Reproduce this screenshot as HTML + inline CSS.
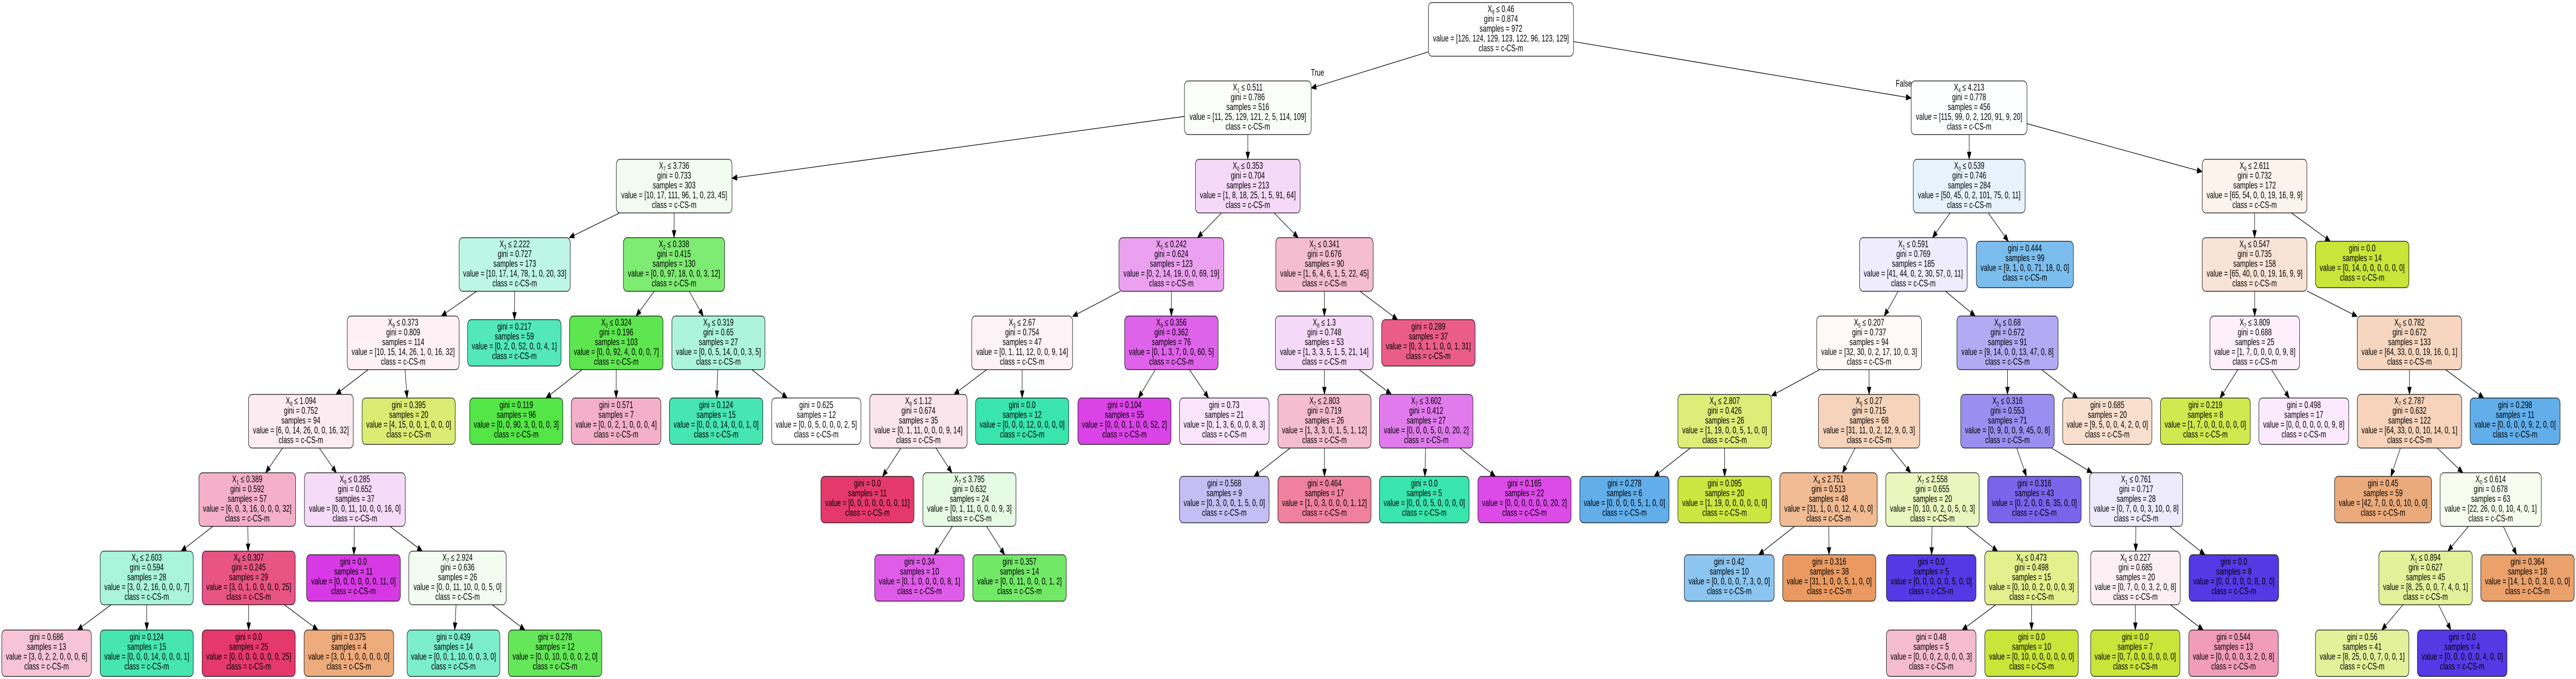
<!DOCTYPE html>
<html><head><meta charset="utf-8"><style>
html,body{margin:0;padding:0;background:#fff;width:100%;height:100%;overflow:hidden;}
svg{display:block;width:100vw;height:100vh;}
text{font-family:"Liberation Sans",Arial,sans-serif;font-size:18.5px;text-anchor:middle;fill:#000;}
.s{font-size:12px;}
rect{stroke:#000;stroke-width:1.2;}
</style></head><body>
<svg id="sv" xmlns="http://www.w3.org/2000/svg" viewBox="0 0 7277 1317" preserveAspectRatio="none">
<g id="edges" stroke="#000" stroke-width="1.3" fill="#000"></g>
<text x="3722" y="147">True</text>
<text x="5378" y="168">False</text>

<rect id="n1" x="4035" y="5" width="410" height="104" rx="10" fill="#ffffff"/>
<text x="4240" y="23.5">X<tspan class="s" dy="4">9</tspan><tspan dy="-4"> ≤ 0.46</tspan><tspan x="4240" dy="19">gini = 0.874</tspan><tspan x="4240" dy="19">samples = 972</tspan><tspan x="4240" dy="19">value = [126, 124, 129, 123, 122, 96, 123, 129]</tspan><tspan x="4240" dy="19">class = c-CS-m</tspan></text>

<rect id="n2" x="3346" y="157" width="358" height="104" rx="10" fill="#fbfdfa"/>
<text x="3525" y="175.5">X<tspan class="s" dy="4">1</tspan><tspan dy="-4"> ≤ 0.511</tspan><tspan x="3525" dy="19">gini = 0.786</tspan><tspan x="3525" dy="19">samples = 516</tspan><tspan x="3525" dy="19">value = [11, 25, 129, 121, 2, 5, 114, 109]</tspan><tspan x="3525" dy="19">class = c-CS-m</tspan></text>

<rect id="n3" x="1741" y="309" width="327" height="104" rx="10" fill="#f2fcf1"/>
<text x="1904.5" y="327.5">X<tspan class="s" dy="4">7</tspan><tspan dy="-4"> ≤ 3.736</tspan><tspan x="1904.5" dy="19">gini = 0.733</tspan><tspan x="1904.5" dy="19">samples = 303</tspan><tspan x="1904.5" dy="19">value = [10, 17, 111, 96, 1, 0, 23, 45]</tspan><tspan x="1904.5" dy="19">class = c-CS-m</tspan></text>

<rect id="n4" x="3377" y="309" width="296" height="104" rx="10" fill="#f6d9f8"/>
<text x="3525" y="327.5">X<tspan class="s" dy="4">0</tspan><tspan dy="-4"> ≤ 0.353</tspan><tspan x="3525" dy="19">gini = 0.704</tspan><tspan x="3525" dy="19">samples = 213</tspan><tspan x="3525" dy="19">value = [1, 8, 18, 25, 1, 5, 91, 64]</tspan><tspan x="3525" dy="19">class = c-CS-m</tspan></text>

<rect id="n5" x="1297" y="461" width="314" height="104" rx="10" fill="#bdf6e4"/>
<text x="1454" y="479.5">X<tspan class="s" dy="4">3</tspan><tspan dy="-4"> ≤ 2.222</tspan><tspan x="1454" dy="19">gini = 0.727</tspan><tspan x="1454" dy="19">samples = 173</tspan><tspan x="1454" dy="19">value = [10, 17, 14, 78, 1, 0, 20, 33]</tspan><tspan x="1454" dy="19">class = c-CS-m</tspan></text>

<rect id="n6" x="1761" y="461" width="286" height="104" rx="10" fill="#7eeb72"/>
<text x="1904" y="479.5">X<tspan class="s" dy="4">2</tspan><tspan dy="-4"> ≤ 0.338</tspan><tspan x="1904" dy="19">gini = 0.415</tspan><tspan x="1904" dy="19">samples = 130</tspan><tspan x="1904" dy="19">value = [0, 0, 97, 18, 0, 0, 3, 12]</tspan><tspan x="1904" dy="19">class = c-CS-m</tspan></text>

<rect id="n7" x="3161" y="461" width="296" height="104" rx="10" fill="#eba0f0"/>
<text x="3309" y="479.5">X<tspan class="s" dy="4">5</tspan><tspan dy="-4"> ≤ 0.242</tspan><tspan x="3309" dy="19">gini = 0.624</tspan><tspan x="3309" dy="19">samples = 123</tspan><tspan x="3309" dy="19">value = [0, 2, 14, 19, 0, 0, 69, 19]</tspan><tspan x="3309" dy="19">class = c-CS-m</tspan></text>

<rect id="n8" x="3604" y="461" width="275" height="104" rx="10" fill="#f5bdd0"/>
<text x="3741.5" y="479.5">X<tspan class="s" dy="4">2</tspan><tspan dy="-4"> ≤ 0.341</tspan><tspan x="3741.5" dy="19">gini = 0.676</tspan><tspan x="3741.5" dy="19">samples = 90</tspan><tspan x="3741.5" dy="19">value = [1, 6, 4, 6, 1, 5, 22, 45]</tspan><tspan x="3741.5" dy="19">class = c-CS-m</tspan></text>

<rect id="n9" x="981" y="613" width="316" height="104" rx="10" fill="#fdf1f5"/>
<text x="1139" y="631.5">X<tspan class="s" dy="4">9</tspan><tspan dy="-4"> ≤ 0.373</tspan><tspan x="1139" dy="19">gini = 0.809</tspan><tspan x="1139" dy="19">samples = 114</tspan><tspan x="1139" dy="19">value = [10, 15, 14, 26, 1, 0, 16, 32]</tspan><tspan x="1139" dy="19">class = c-CS-m</tspan></text>

<rect id="n10" x="1321" y="620" width="264" height="90" rx="10" fill="#52e8b7"/>
<text x="1453" y="639.5">gini = 0.217<tspan x="1453" dy="19">samples = 59</tspan><tspan x="1453" dy="19">value = [0, 2, 0, 52, 0, 0, 4, 1]</tspan><tspan x="1453" dy="19">class = c-CS-m</tspan></text>

<rect id="n11" x="1609" y="613" width="264" height="104" rx="10" fill="#5de64f"/>
<text x="1741" y="631.5">X<tspan class="s" dy="4">0</tspan><tspan dy="-4"> ≤ 0.324</tspan><tspan x="1741" dy="19">gini = 0.196</tspan><tspan x="1741" dy="19">samples = 103</tspan><tspan x="1741" dy="19">value = [0, 0, 92, 4, 0, 0, 0, 7]</tspan><tspan x="1741" dy="19">class = c-CS-m</tspan></text>

<rect id="n12" x="1898" y="613" width="263" height="104" rx="10" fill="#adf4dc"/>
<text x="2029.5" y="631.5">X<tspan class="s" dy="4">9</tspan><tspan dy="-4"> ≤ 0.319</tspan><tspan x="2029.5" dy="19">gini = 0.65</tspan><tspan x="2029.5" dy="19">samples = 27</tspan><tspan x="2029.5" dy="19">value = [0, 0, 5, 14, 0, 0, 3, 5]</tspan><tspan x="2029.5" dy="19">class = c-CS-m</tspan></text>

<rect id="n13" x="2745" y="613" width="285" height="104" rx="10" fill="#fdf2f5"/>
<text x="2887.5" y="631.5">X<tspan class="s" dy="4">3</tspan><tspan dy="-4"> ≤ 2.67</tspan><tspan x="2887.5" dy="19">gini = 0.754</tspan><tspan x="2887.5" dy="19">samples = 47</tspan><tspan x="2887.5" dy="19">value = [0, 1, 11, 12, 0, 0, 9, 14]</tspan><tspan x="2887.5" dy="19">class = c-CS-m</tspan></text>

<rect id="n14" x="3177" y="613" width="264" height="104" rx="10" fill="#df62eb"/>
<text x="3309" y="631.5">X<tspan class="s" dy="4">9</tspan><tspan dy="-4"> ≤ 0.356</tspan><tspan x="3309" dy="19">gini = 0.362</tspan><tspan x="3309" dy="19">samples = 76</tspan><tspan x="3309" dy="19">value = [0, 1, 3, 7, 0, 0, 60, 5]</tspan><tspan x="3309" dy="19">class = c-CS-m</tspan></text>

<rect id="n15" x="3603" y="613" width="276" height="104" rx="10" fill="#f6d9f8"/>
<text x="3741" y="631.5">X<tspan class="s" dy="4">8</tspan><tspan dy="-4"> ≤ 1.3</tspan><tspan x="3741" dy="19">gini = 0.748</tspan><tspan x="3741" dy="19">samples = 53</tspan><tspan x="3741" dy="19">value = [1, 3, 3, 5, 1, 5, 21, 14]</tspan><tspan x="3741" dy="19">class = c-CS-m</tspan></text>

<rect id="n16" x="3903" y="620" width="264" height="90" rx="10" fill="#ea5d8a"/>
<text x="4035" y="639.5">gini = 0.289<tspan x="4035" dy="19">samples = 37</tspan><tspan x="4035" dy="19">value = [0, 3, 1, 1, 0, 0, 1, 31]</tspan><tspan x="4035" dy="19">class = c-CS-m</tspan></text>

<rect id="n17" x="702" y="765" width="296" height="104" rx="10" fill="#fcecf2"/>
<text x="850" y="783.5">X<tspan class="s" dy="4">8</tspan><tspan dy="-4"> ≤ 1.094</tspan><tspan x="850" dy="19">gini = 0.752</tspan><tspan x="850" dy="19">samples = 94</tspan><tspan x="850" dy="19">value = [6, 0, 14, 26, 0, 0, 16, 32]</tspan><tspan x="850" dy="19">class = c-CS-m</tspan></text>

<rect id="n18" x="1023" y="772" width="263" height="90" rx="10" fill="#dbec74"/>
<text x="1154.5" y="791.5">gini = 0.395<tspan x="1154.5" dy="19">samples = 20</tspan><tspan x="1154.5" dy="19">value = [4, 15, 0, 0, 1, 0, 0, 0]</tspan><tspan x="1154.5" dy="19">class = c-CS-m</tspan></text>

<rect id="n19" x="1327" y="772" width="263" height="90" rx="10" fill="#54e547"/>
<text x="1458.5" y="791.5">gini = 0.119<tspan x="1458.5" dy="19">samples = 96</tspan><tspan x="1458.5" dy="19">value = [0, 0, 90, 3, 0, 0, 0, 3]</tspan><tspan x="1458.5" dy="19">class = c-CS-m</tspan></text>

<rect id="n20" x="1614" y="772" width="253" height="90" rx="10" fill="#f4b0c8"/>
<text x="1740.5" y="791.5">gini = 0.571<tspan x="1740.5" dy="19">samples = 7</tspan><tspan x="1740.5" dy="19">value = [0, 0, 2, 1, 0, 0, 0, 4]</tspan><tspan x="1740.5" dy="19">class = c-CS-m</tspan></text>

<rect id="n21" x="1891" y="772" width="264" height="90" rx="10" fill="#47e5b1"/>
<text x="2023" y="791.5">gini = 0.124<tspan x="2023" dy="19">samples = 15</tspan><tspan x="2023" dy="19">value = [0, 0, 0, 14, 0, 0, 1, 0]</tspan><tspan x="2023" dy="19">class = c-CS-m</tspan></text>

<rect id="n22" x="2180" y="772" width="252" height="90" rx="10" fill="#ffffff"/>
<text x="2306" y="791.5">gini = 0.625<tspan x="2306" dy="19">samples = 12</tspan><tspan x="2306" dy="19">value = [0, 0, 5, 0, 0, 0, 2, 5]</tspan><tspan x="2306" dy="19">class = c-CS-m</tspan></text>

<rect id="n23" x="2457" y="765" width="275" height="104" rx="10" fill="#fbe5ec"/>
<text x="2594.5" y="783.5">X<tspan class="s" dy="4">8</tspan><tspan dy="-4"> ≤ 1.12</tspan><tspan x="2594.5" dy="19">gini = 0.674</tspan><tspan x="2594.5" dy="19">samples = 35</tspan><tspan x="2594.5" dy="19">value = [0, 1, 11, 0, 0, 0, 9, 14]</tspan><tspan x="2594.5" dy="19">class = c-CS-m</tspan></text>

<rect id="n24" x="2756" y="772" width="263" height="90" rx="10" fill="#39e5ac"/>
<text x="2887.5" y="791.5">gini = 0.0<tspan x="2887.5" dy="19">samples = 12</tspan><tspan x="2887.5" dy="19">value = [0, 0, 0, 12, 0, 0, 0, 0]</tspan><tspan x="2887.5" dy="19">class = c-CS-m</tspan></text>

<rect id="n25" x="3045" y="772" width="263" height="90" rx="10" fill="#da44e7"/>
<text x="3176.5" y="791.5">gini = 0.104<tspan x="3176.5" dy="19">samples = 55</tspan><tspan x="3176.5" dy="19">value = [0, 0, 0, 1, 0, 0, 52, 2]</tspan><tspan x="3176.5" dy="19">class = c-CS-m</tspan></text>

<rect id="n26" x="3332" y="772" width="253" height="90" rx="10" fill="#fae4fb"/>
<text x="3458.5" y="791.5">gini = 0.73<tspan x="3458.5" dy="19">samples = 21</tspan><tspan x="3458.5" dy="19">value = [0, 1, 3, 6, 0, 0, 8, 3]</tspan><tspan x="3458.5" dy="19">class = c-CS-m</tspan></text>

<rect id="n27" x="3610" y="765" width="263" height="104" rx="10" fill="#f5bdd0"/>
<text x="3741.5" y="783.5">X<tspan class="s" dy="4">7</tspan><tspan dy="-4"> ≤ 2.803</tspan><tspan x="3741.5" dy="19">gini = 0.719</tspan><tspan x="3741.5" dy="19">samples = 26</tspan><tspan x="3741.5" dy="19">value = [1, 3, 3, 0, 1, 5, 1, 12]</tspan><tspan x="3741.5" dy="19">class = c-CS-m</tspan></text>

<rect id="n28" x="3897" y="765" width="264" height="104" rx="10" fill="#e17bed"/>
<text x="4029" y="783.5">X<tspan class="s" dy="4">7</tspan><tspan dy="-4"> ≤ 3.602</tspan><tspan x="4029" dy="19">gini = 0.412</tspan><tspan x="4029" dy="19">samples = 27</tspan><tspan x="4029" dy="19">value = [0, 0, 0, 5, 0, 0, 20, 2]</tspan><tspan x="4029" dy="19">class = c-CS-m</tspan></text>

<rect id="n29" x="562" y="917" width="273" height="104" rx="10" fill="#f5b0c9"/>
<text x="698.5" y="935.5">X<tspan class="s" dy="4">1</tspan><tspan dy="-4"> ≤ 0.389</tspan><tspan x="698.5" dy="19">gini = 0.592</tspan><tspan x="698.5" dy="19">samples = 57</tspan><tspan x="698.5" dy="19">value = [6, 0, 3, 16, 0, 0, 0, 32]</tspan><tspan x="698.5" dy="19">class = c-CS-m</tspan></text>

<rect id="n30" x="860" y="917" width="285" height="104" rx="10" fill="#f6dbf8"/>
<text x="1002.5" y="935.5">X<tspan class="s" dy="4">9</tspan><tspan dy="-4"> ≤ 0.285</tspan><tspan x="1002.5" dy="19">gini = 0.652</tspan><tspan x="1002.5" dy="19">samples = 37</tspan><tspan x="1002.5" dy="19">value = [0, 0, 11, 10, 0, 0, 16, 0]</tspan><tspan x="1002.5" dy="19">class = c-CS-m</tspan></text>

<rect id="n31" x="2319" y="924" width="263" height="90" rx="10" fill="#e5396c"/>
<text x="2450.5" y="943.5">gini = 0.0<tspan x="2450.5" dy="19">samples = 11</tspan><tspan x="2450.5" dy="19">value = [0, 0, 0, 0, 0, 0, 0, 11]</tspan><tspan x="2450.5" dy="19">class = c-CS-m</tspan></text>

<rect id="n32" x="2607" y="917" width="263" height="104" rx="10" fill="#e6fbe4"/>
<text x="2738.5" y="935.5">X<tspan class="s" dy="4">7</tspan><tspan dy="-4"> ≤ 3.795</tspan><tspan x="2738.5" dy="19">gini = 0.632</tspan><tspan x="2738.5" dy="19">samples = 24</tspan><tspan x="2738.5" dy="19">value = [0, 1, 11, 0, 0, 0, 9, 3]</tspan><tspan x="2738.5" dy="19">class = c-CS-m</tspan></text>

<rect id="n33" x="3332" y="924" width="253" height="90" rx="10" fill="#c5bef5"/>
<text x="3458.5" y="943.5">gini = 0.568<tspan x="3458.5" dy="19">samples = 9</tspan><tspan x="3458.5" dy="19">value = [0, 3, 0, 0, 1, 5, 0, 0]</tspan><tspan x="3458.5" dy="19">class = c-CS-m</tspan></text>

<rect id="n34" x="3610" y="924" width="263" height="90" rx="10" fill="#ef819f"/>
<text x="3741.5" y="943.5">gini = 0.464<tspan x="3741.5" dy="19">samples = 17</tspan><tspan x="3741.5" dy="19">value = [1, 0, 3, 0, 0, 0, 1, 12]</tspan><tspan x="3741.5" dy="19">class = c-CS-m</tspan></text>

<rect id="n35" x="3897" y="924" width="253" height="90" rx="10" fill="#39e5ac"/>
<text x="4023.5" y="943.5">gini = 0.0<tspan x="4023.5" dy="19">samples = 5</tspan><tspan x="4023.5" dy="19">value = [0, 0, 0, 5, 0, 0, 0, 0]</tspan><tspan x="4023.5" dy="19">class = c-CS-m</tspan></text>

<rect id="n36" x="4175" y="924" width="263" height="90" rx="10" fill="#dc4ae8"/>
<text x="4306.5" y="943.5">gini = 0.165<tspan x="4306.5" dy="19">samples = 22</tspan><tspan x="4306.5" dy="19">value = [0, 0, 0, 0, 0, 0, 20, 2]</tspan><tspan x="4306.5" dy="19">class = c-CS-m</tspan></text>

<rect id="n37" x="283" y="1069" width="263" height="104" rx="10" fill="#aaf4dc"/>
<text x="414.5" y="1087.5">X<tspan class="s" dy="4">4</tspan><tspan dy="-4"> ≤ 2.603</tspan><tspan x="414.5" dy="19">gini = 0.594</tspan><tspan x="414.5" dy="19">samples = 28</tspan><tspan x="414.5" dy="19">value = [3, 0, 2, 16, 0, 0, 0, 7]</tspan><tspan x="414.5" dy="19">class = c-CS-m</tspan></text>

<rect id="n38" x="571" y="1069" width="263" height="104" rx="10" fill="#e85585"/>
<text x="702.5" y="1087.5">X<tspan class="s" dy="4">9</tspan><tspan dy="-4"> ≤ 0.307</tspan><tspan x="702.5" dy="19">gini = 0.245</tspan><tspan x="702.5" dy="19">samples = 29</tspan><tspan x="702.5" dy="19">value = [3, 0, 1, 0, 0, 0, 0, 25]</tspan><tspan x="702.5" dy="19">class = c-CS-m</tspan></text>

<rect id="n39" x="866" y="1076" width="265" height="90" rx="10" fill="#d739e5"/>
<text x="998.5" y="1095.5">gini = 0.0<tspan x="998.5" dy="19">samples = 11</tspan><tspan x="998.5" dy="19">value = [0, 0, 0, 0, 0, 0, 11, 0]</tspan><tspan x="998.5" dy="19">class = c-CS-m</tspan></text>

<rect id="n40" x="1155" y="1069" width="275" height="104" rx="10" fill="#f3fcf1"/>
<text x="1292.5" y="1087.5">X<tspan class="s" dy="4">7</tspan><tspan dy="-4"> ≤ 2.924</tspan><tspan x="1292.5" dy="19">gini = 0.636</tspan><tspan x="1292.5" dy="19">samples = 26</tspan><tspan x="1292.5" dy="19">value = [0, 0, 11, 10, 0, 0, 5, 0]</tspan><tspan x="1292.5" dy="19">class = c-CS-m</tspan></text>

<rect id="n41" x="2471" y="1076" width="253" height="90" rx="10" fill="#df5ce9"/>
<text x="2597.5" y="1095.5">gini = 0.34<tspan x="2597.5" dy="19">samples = 10</tspan><tspan x="2597.5" dy="19">value = [0, 1, 0, 0, 0, 0, 8, 1]</tspan><tspan x="2597.5" dy="19">class = c-CS-m</tspan></text>

<rect id="n42" x="2748" y="1076" width="264" height="90" rx="10" fill="#72e966"/>
<text x="2880" y="1095.5">gini = 0.357<tspan x="2880" dy="19">samples = 14</tspan><tspan x="2880" dy="19">value = [0, 0, 11, 0, 0, 0, 1, 2]</tspan><tspan x="2880" dy="19">class = c-CS-m</tspan></text>

<rect id="n43" x="5" y="1222" width="253" height="90" rx="10" fill="#f6c4d6"/>
<text x="131.5" y="1241.5">gini = 0.686<tspan x="131.5" dy="19">samples = 13</tspan><tspan x="131.5" dy="19">value = [3, 0, 2, 2, 0, 0, 0, 6]</tspan><tspan x="131.5" dy="19">class = c-CS-m</tspan></text>

<rect id="n44" x="283" y="1222" width="263" height="90" rx="10" fill="#47e6b1"/>
<text x="414.5" y="1241.5">gini = 0.124<tspan x="414.5" dy="19">samples = 15</tspan><tspan x="414.5" dy="19">value = [0, 0, 0, 14, 0, 0, 0, 1]</tspan><tspan x="414.5" dy="19">class = c-CS-m</tspan></text>

<rect id="n45" x="571" y="1222" width="263" height="90" rx="10" fill="#e5396c"/>
<text x="702.5" y="1241.5">gini = 0.0<tspan x="702.5" dy="19">samples = 25</tspan><tspan x="702.5" dy="19">value = [0, 0, 0, 0, 0, 0, 0, 25]</tspan><tspan x="702.5" dy="19">class = c-CS-m</tspan></text>

<rect id="n46" x="859" y="1222" width="253" height="90" rx="10" fill="#eeab7b"/>
<text x="985.5" y="1241.5">gini = 0.375<tspan x="985.5" dy="19">samples = 4</tspan><tspan x="985.5" dy="19">value = [3, 0, 1, 0, 0, 0, 0, 0]</tspan><tspan x="985.5" dy="19">class = c-CS-m</tspan></text>

<rect id="n47" x="1150" y="1222" width="262" height="90" rx="10" fill="#7deecb"/>
<text x="1281" y="1241.5">gini = 0.439<tspan x="1281" dy="19">samples = 14</tspan><tspan x="1281" dy="19">value = [0, 0, 1, 10, 0, 0, 3, 0]</tspan><tspan x="1281" dy="19">class = c-CS-m</tspan></text>

<rect id="n48" x="1436" y="1222" width="264" height="90" rx="10" fill="#65e759"/>
<text x="1568" y="1241.5">gini = 0.278<tspan x="1568" dy="19">samples = 12</tspan><tspan x="1568" dy="19">value = [0, 0, 10, 0, 0, 0, 2, 0]</tspan><tspan x="1568" dy="19">class = c-CS-m</tspan></text>

<rect id="r1" x="5399" y="157" width="327" height="104" rx="10" fill="#fdfeff"/>
<text x="5562.5" y="175.5">X<tspan class="s" dy="4">4</tspan><tspan dy="-4"> ≤ 4.213</tspan><tspan x="5562.5" dy="19">gini = 0.778</tspan><tspan x="5562.5" dy="19">samples = 456</tspan><tspan x="5562.5" dy="19">value = [115, 99, 0, 2, 120, 91, 9, 20]</tspan><tspan x="5562.5" dy="19">class = c-CS-m</tspan></text>

<rect id="r2" x="5405" y="309" width="316" height="104" rx="10" fill="#e6f2fc"/>
<text x="5563" y="327.5">X<tspan class="s" dy="4">0</tspan><tspan dy="-4"> ≤ 0.539</tspan><tspan x="5563" dy="19">gini = 0.746</tspan><tspan x="5563" dy="19">samples = 284</tspan><tspan x="5563" dy="19">value = [50, 45, 0, 2, 101, 75, 0, 11]</tspan><tspan x="5563" dy="19">class = c-CS-m</tspan></text>

<rect id="r3" x="6221" y="309" width="296" height="104" rx="10" fill="#fcf3ec"/>
<text x="6369" y="327.5">X<tspan class="s" dy="4">8</tspan><tspan dy="-4"> ≤ 2.611</tspan><tspan x="6369" dy="19">gini = 0.732</tspan><tspan x="6369" dy="19">samples = 172</tspan><tspan x="6369" dy="19">value = [65, 54, 0, 0, 19, 16, 9, 9]</tspan><tspan x="6369" dy="19">class = c-CS-m</tspan></text>

<rect id="r4" x="5253" y="461" width="304" height="104" rx="10" fill="#eeecfd"/>
<text x="5405" y="479.5">X<tspan class="s" dy="4">1</tspan><tspan dy="-4"> ≤ 0.591</tspan><tspan x="5405" dy="19">gini = 0.769</tspan><tspan x="5405" dy="19">samples = 185</tspan><tspan x="5405" dy="19">value = [41, 44, 0, 2, 30, 57, 0, 11]</tspan><tspan x="5405" dy="19">class = c-CS-m</tspan></text>

<rect id="r5" x="5583" y="468" width="274" height="90" rx="10" fill="#7bbeee"/>
<text x="5720" y="487.5">gini = 0.444<tspan x="5720" dy="19">samples = 99</tspan><tspan x="5720" dy="19">value = [9, 1, 0, 0, 71, 18, 0, 0]</tspan><tspan x="5720" dy="19">class = c-CS-m</tspan></text>

<rect id="r6" x="6221" y="461" width="296" height="104" rx="10" fill="#f8e3d6"/>
<text x="6369" y="479.5">X<tspan class="s" dy="4">9</tspan><tspan dy="-4"> ≤ 0.547</tspan><tspan x="6369" dy="19">gini = 0.735</tspan><tspan x="6369" dy="19">samples = 158</tspan><tspan x="6369" dy="19">value = [65, 40, 0, 0, 19, 16, 9, 9]</tspan><tspan x="6369" dy="19">class = c-CS-m</tspan></text>

<rect id="r7" x="6541" y="468" width="264" height="90" rx="10" fill="#c9e539"/>
<text x="6673" y="487.5">gini = 0.0<tspan x="6673" dy="19">samples = 14</tspan><tspan x="6673" dy="19">value = [0, 14, 0, 0, 0, 0, 0, 0]</tspan><tspan x="6673" dy="19">class = c-CS-m</tspan></text>

<rect id="r8" x="5132" y="613" width="296" height="104" rx="10" fill="#fffaf7"/>
<text x="5280" y="631.5">X<tspan class="s" dy="4">5</tspan><tspan dy="-4"> ≤ 0.207</tspan><tspan x="5280" dy="19">gini = 0.737</tspan><tspan x="5280" dy="19">samples = 94</tspan><tspan x="5280" dy="19">value = [32, 30, 0, 2, 17, 10, 0, 3]</tspan><tspan x="5280" dy="19">class = c-CS-m</tspan></text>

<rect id="r9" x="5528" y="613" width="286" height="104" rx="10" fill="#b4aaf4"/>
<text x="5671" y="631.5">X<tspan class="s" dy="4">9</tspan><tspan dy="-4"> ≤ 0.68</tspan><tspan x="5671" dy="19">gini = 0.672</tspan><tspan x="5671" dy="19">samples = 91</tspan><tspan x="5671" dy="19">value = [9, 14, 0, 0, 13, 47, 0, 8]</tspan><tspan x="5671" dy="19">class = c-CS-m</tspan></text>

<rect id="r10" x="6243" y="613" width="253" height="104" rx="10" fill="#fdf0fc"/>
<text x="6369.5" y="631.5">X<tspan class="s" dy="4">7</tspan><tspan dy="-4"> ≤ 3.809</tspan><tspan x="6369.5" dy="19">gini = 0.688</tspan><tspan x="6369.5" dy="19">samples = 25</tspan><tspan x="6369.5" dy="19">value = [1, 7, 0, 0, 0, 0, 9, 8]</tspan><tspan x="6369.5" dy="19">class = c-CS-m</tspan></text>

<rect id="r11" x="6659" y="613" width="295" height="104" rx="10" fill="#f6d6bf"/>
<text x="6806.5" y="631.5">X<tspan class="s" dy="4">0</tspan><tspan dy="-4"> ≤ 0.782</tspan><tspan x="6806.5" dy="19">gini = 0.672</tspan><tspan x="6806.5" dy="19">samples = 133</tspan><tspan x="6806.5" dy="19">value = [64, 33, 0, 0, 19, 16, 0, 1]</tspan><tspan x="6806.5" dy="19">class = c-CS-m</tspan></text>

<rect id="r12" x="4740" y="765" width="264" height="104" rx="10" fill="#dced78"/>
<text x="4872" y="783.5">X<tspan class="s" dy="4">4</tspan><tspan dy="-4"> ≤ 2.807</tspan><tspan x="4872" dy="19">gini = 0.426</tspan><tspan x="4872" dy="19">samples = 26</tspan><tspan x="4872" dy="19">value = [1, 19, 0, 0, 5, 1, 0, 0]</tspan><tspan x="4872" dy="19">class = c-CS-m</tspan></text>

<rect id="r13" x="5137" y="765" width="286" height="104" rx="10" fill="#f6d4bb"/>
<text x="5280" y="783.5">X<tspan class="s" dy="4">5</tspan><tspan dy="-4"> ≤ 0.27</tspan><tspan x="5280" dy="19">gini = 0.715</tspan><tspan x="5280" dy="19">samples = 68</tspan><tspan x="5280" dy="19">value = [31, 11, 0, 2, 12, 9, 0, 3]</tspan><tspan x="5280" dy="19">class = c-CS-m</tspan></text>

<rect id="r14" x="5539" y="765" width="264" height="104" rx="10" fill="#9b8ef0"/>
<text x="5671" y="783.5">X<tspan class="s" dy="4">2</tspan><tspan dy="-4"> ≤ 0.316</tspan><tspan x="5671" dy="19">gini = 0.553</tspan><tspan x="5671" dy="19">samples = 71</tspan><tspan x="5671" dy="19">value = [0, 9, 0, 0, 9, 45, 0, 8]</tspan><tspan x="5671" dy="19">class = c-CS-m</tspan></text>

<rect id="r15" x="5827" y="772" width="252" height="90" rx="10" fill="#f8dfcd"/>
<text x="5953" y="791.5">gini = 0.685<tspan x="5953" dy="19">samples = 20</tspan><tspan x="5953" dy="19">value = [9, 5, 0, 0, 4, 2, 0, 0]</tspan><tspan x="5953" dy="19">class = c-CS-m</tspan></text>

<rect id="r16" x="6103" y="772" width="254" height="90" rx="10" fill="#d0e94f"/>
<text x="6230" y="791.5">gini = 0.219<tspan x="6230" dy="19">samples = 8</tspan><tspan x="6230" dy="19">value = [1, 7, 0, 0, 0, 0, 0, 0]</tspan><tspan x="6230" dy="19">class = c-CS-m</tspan></text>

<rect id="r17" x="6381" y="772" width="254" height="90" rx="10" fill="#fbeafd"/>
<text x="6508" y="791.5">gini = 0.498<tspan x="6508" dy="19">samples = 17</tspan><tspan x="6508" dy="19">value = [0, 0, 0, 0, 0, 0, 9, 8]</tspan><tspan x="6508" dy="19">class = c-CS-m</tspan></text>

<rect id="r18" x="6659" y="765" width="295" height="104" rx="10" fill="#f6d3ba"/>
<text x="6806.5" y="783.5">X<tspan class="s" dy="4">7</tspan><tspan dy="-4"> ≤ 2.787</tspan><tspan x="6806.5" dy="19">gini = 0.632</tspan><tspan x="6806.5" dy="19">samples = 122</tspan><tspan x="6806.5" dy="19">value = [64, 33, 0, 0, 10, 14, 0, 1]</tspan><tspan x="6806.5" dy="19">class = c-CS-m</tspan></text>

<rect id="r19" x="6978" y="772" width="254" height="90" rx="10" fill="#61aeea"/>
<text x="7105" y="791.5">gini = 0.298<tspan x="7105" dy="19">samples = 11</tspan><tspan x="7105" dy="19">value = [0, 0, 0, 0, 9, 2, 0, 0]</tspan><tspan x="7105" dy="19">class = c-CS-m</tspan></text>

<rect id="r20" x="4463" y="924" width="252" height="90" rx="10" fill="#61aeea"/>
<text x="4589" y="943.5">gini = 0.278<tspan x="4589" dy="19">samples = 6</tspan><tspan x="4589" dy="19">value = [0, 0, 0, 0, 5, 1, 0, 0]</tspan><tspan x="4589" dy="19">class = c-CS-m</tspan></text>

<rect id="r21" x="4740" y="924" width="264" height="90" rx="10" fill="#cbe640"/>
<text x="4872" y="943.5">gini = 0.095<tspan x="4872" dy="19">samples = 20</tspan><tspan x="4872" dy="19">value = [1, 19, 0, 0, 0, 0, 0, 0]</tspan><tspan x="4872" dy="19">class = c-CS-m</tspan></text>

<rect id="r22" x="5028" y="917" width="275" height="104" rx="10" fill="#f1bb94"/>
<text x="5165.5" y="935.5">X<tspan class="s" dy="4">4</tspan><tspan dy="-4"> ≤ 2.751</tspan><tspan x="5165.5" dy="19">gini = 0.513</tspan><tspan x="5165.5" dy="19">samples = 48</tspan><tspan x="5165.5" dy="19">value = [31, 1, 0, 0, 12, 4, 0, 0]</tspan><tspan x="5165.5" dy="19">class = c-CS-m</tspan></text>

<rect id="r23" x="5327" y="917" width="264" height="104" rx="10" fill="#ebf5be"/>
<text x="5459" y="935.5">X<tspan class="s" dy="4">7</tspan><tspan dy="-4"> ≤ 2.558</tspan><tspan x="5459" dy="19">gini = 0.655</tspan><tspan x="5459" dy="19">samples = 20</tspan><tspan x="5459" dy="19">value = [0, 10, 0, 2, 0, 5, 0, 3]</tspan><tspan x="5459" dy="19">class = c-CS-m</tspan></text>

<rect id="r24" x="5615" y="924" width="264" height="90" rx="10" fill="#7a64ea"/>
<text x="5747" y="943.5">gini = 0.316<tspan x="5747" dy="19">samples = 43</tspan><tspan x="5747" dy="19">value = [0, 2, 0, 0, 6, 35, 0, 0]</tspan><tspan x="5747" dy="19">class = c-CS-m</tspan></text>

<rect id="r25" x="5903" y="917" width="263" height="104" rx="10" fill="#edebfc"/>
<text x="6034.5" y="935.5">X<tspan class="s" dy="4">1</tspan><tspan dy="-4"> ≤ 0.761</tspan><tspan x="6034.5" dy="19">gini = 0.717</tspan><tspan x="6034.5" dy="19">samples = 28</tspan><tspan x="6034.5" dy="19">value = [0, 7, 0, 0, 3, 10, 0, 8]</tspan><tspan x="6034.5" dy="19">class = c-CS-m</tspan></text>

<rect id="r26" x="6595" y="924" width="274" height="90" rx="10" fill="#ebaa7b"/>
<text x="6732" y="943.5">gini = 0.45<tspan x="6732" dy="19">samples = 59</tspan><tspan x="6732" dy="19">value = [42, 7, 0, 0, 0, 10, 0, 0]</tspan><tspan x="6732" dy="19">class = c-CS-m</tspan></text>

<rect id="r27" x="6893" y="917" width="286" height="104" rx="10" fill="#f8fcee"/>
<text x="7036" y="935.5">X<tspan class="s" dy="4">0</tspan><tspan dy="-4"> ≤ 0.614</tspan><tspan x="7036" dy="19">gini = 0.678</tspan><tspan x="7036" dy="19">samples = 63</tspan><tspan x="7036" dy="19">value = [22, 26, 0, 0, 10, 4, 0, 1]</tspan><tspan x="7036" dy="19">class = c-CS-m</tspan></text>

<rect id="r28" x="4758" y="1076" width="254" height="90" rx="10" fill="#8bc5f0"/>
<text x="4885" y="1095.5">gini = 0.42<tspan x="4885" dy="19">samples = 10</tspan><tspan x="4885" dy="19">value = [0, 0, 0, 0, 7, 3, 0, 0]</tspan><tspan x="4885" dy="19">class = c-CS-m</tspan></text>

<rect id="r29" x="5036" y="1076" width="263" height="90" rx="10" fill="#ea9a60"/>
<text x="5167.5" y="1095.5">gini = 0.316<tspan x="5167.5" dy="19">samples = 38</tspan><tspan x="5167.5" dy="19">value = [31, 1, 0, 0, 5, 1, 0, 0]</tspan><tspan x="5167.5" dy="19">class = c-CS-m</tspan></text>

<rect id="r30" x="5329" y="1076" width="253" height="90" rx="10" fill="#5539e5"/>
<text x="5455.5" y="1095.5">gini = 0.0<tspan x="5455.5" dy="19">samples = 5</tspan><tspan x="5455.5" dy="19">value = [0, 0, 0, 0, 0, 5, 0, 0]</tspan><tspan x="5455.5" dy="19">class = c-CS-m</tspan></text>

<rect id="r31" x="5607" y="1069" width="264" height="104" rx="10" fill="#e2f08e"/>
<text x="5739" y="1087.5">X<tspan class="s" dy="4">9</tspan><tspan dy="-4"> ≤ 0.473</tspan><tspan x="5739" dy="19">gini = 0.498</tspan><tspan x="5739" dy="19">samples = 15</tspan><tspan x="5739" dy="19">value = [0, 10, 0, 2, 0, 0, 0, 3]</tspan><tspan x="5739" dy="19">class = c-CS-m</tspan></text>

<rect id="r32" x="5906" y="1069" width="253" height="104" rx="10" fill="#fcf0f4"/>
<text x="6032.5" y="1087.5">X<tspan class="s" dy="4">5</tspan><tspan dy="-4"> ≤ 0.227</tspan><tspan x="6032.5" dy="19">gini = 0.685</tspan><tspan x="6032.5" dy="19">samples = 20</tspan><tspan x="6032.5" dy="19">value = [0, 7, 0, 0, 3, 2, 0, 8]</tspan><tspan x="6032.5" dy="19">class = c-CS-m</tspan></text>

<rect id="r33" x="6184" y="1076" width="253" height="90" rx="10" fill="#5539e5"/>
<text x="6310.5" y="1095.5">gini = 0.0<tspan x="6310.5" dy="19">samples = 8</tspan><tspan x="6310.5" dy="19">value = [0, 0, 0, 0, 0, 8, 0, 0]</tspan><tspan x="6310.5" dy="19">class = c-CS-m</tspan></text>

<rect id="r34" x="6720" y="1069" width="264" height="104" rx="10" fill="#e3f19b"/>
<text x="6852" y="1087.5">X<tspan class="s" dy="4">1</tspan><tspan dy="-4"> ≤ 0.894</tspan><tspan x="6852" dy="19">gini = 0.627</tspan><tspan x="6852" dy="19">samples = 45</tspan><tspan x="6852" dy="19">value = [8, 25, 0, 0, 7, 4, 0, 1]</tspan><tspan x="6852" dy="19">class = c-CS-m</tspan></text>

<rect id="r35" x="7008" y="1076" width="264" height="90" rx="10" fill="#eba16c"/>
<text x="7140" y="1095.5">gini = 0.364<tspan x="7140" dy="19">samples = 18</tspan><tspan x="7140" dy="19">value = [14, 1, 0, 0, 3, 0, 0, 0]</tspan><tspan x="7140" dy="19">class = c-CS-m</tspan></text>

<rect id="r36" x="5329" y="1222" width="253" height="90" rx="10" fill="#f5bcd0"/>
<text x="5455.5" y="1241.5">gini = 0.48<tspan x="5455.5" dy="19">samples = 5</tspan><tspan x="5455.5" dy="19">value = [0, 0, 0, 2, 0, 0, 0, 3]</tspan><tspan x="5455.5" dy="19">class = c-CS-m</tspan></text>

<rect id="r37" x="5607" y="1222" width="264" height="90" rx="10" fill="#c9e539"/>
<text x="5739" y="1241.5">gini = 0.0<tspan x="5739" dy="19">samples = 10</tspan><tspan x="5739" dy="19">value = [0, 10, 0, 0, 0, 0, 0, 0]</tspan><tspan x="5739" dy="19">class = c-CS-m</tspan></text>

<rect id="r38" x="5906" y="1222" width="252" height="90" rx="10" fill="#c9e539"/>
<text x="6032" y="1241.5">gini = 0.0<tspan x="6032" dy="19">samples = 7</tspan><tspan x="6032" dy="19">value = [0, 7, 0, 0, 0, 0, 0, 0]</tspan><tspan x="6032" dy="19">class = c-CS-m</tspan></text>

<rect id="r39" x="6183" y="1222" width="253" height="90" rx="10" fill="#f19cb8"/>
<text x="6309.5" y="1241.5">gini = 0.544<tspan x="6309.5" dy="19">samples = 13</tspan><tspan x="6309.5" dy="19">value = [0, 0, 0, 0, 3, 2, 0, 8]</tspan><tspan x="6309.5" dy="19">class = c-CS-m</tspan></text>

<rect id="r40" x="6541" y="1222" width="264" height="90" rx="10" fill="#e3f19a"/>
<text x="6673" y="1241.5">gini = 0.56<tspan x="6673" dy="19">samples = 41</tspan><tspan x="6673" dy="19">value = [8, 25, 0, 0, 7, 0, 0, 1]</tspan><tspan x="6673" dy="19">class = c-CS-m</tspan></text>

<rect id="r41" x="6829" y="1222" width="253" height="90" rx="10" fill="#5539e5"/>
<text x="6955.5" y="1241.5">gini = 0.0<tspan x="6955.5" dy="19">samples = 4</tspan><tspan x="6955.5" dy="19">value = [0, 0, 0, 0, 0, 4, 0, 0]</tspan><tspan x="6955.5" dy="19">class = c-CS-m</tspan></text>
</svg>
<script>
(function(){
var E=[["n1","n2"],["n1","r1"],["n2","n3"],["n2","n4"],["n3","n5"],["n3","n6"],["n4","n7"],["n4","n8"],
["n5","n9"],["n5","n10"],["n6","n11"],["n6","n12"],["n7","n13"],["n7","n14"],["n8","n15"],["n8","n16"],
["n9","n17"],["n9","n18"],["n11","n19"],["n11","n20"],["n12","n21"],["n12","n22"],["n13","n23"],["n13","n24"],
["n14","n25"],["n14","n26"],["n15","n27"],["n15","n28"],["n17","n29"],["n17","n30"],["n23","n31"],["n23","n32"],
["n27","n33"],["n27","n34"],["n28","n35"],["n28","n36"],["n29","n37"],["n29","n38"],["n30","n39"],["n30","n40"],
["n32","n41"],["n32","n42"],["n37","n43"],["n37","n44"],["n38","n45"],["n38","n46"],["n40","n47"],["n40","n48"],
["r1","r2"],["r1","r3"],["r2","r4"],["r2","r5"],["r3","r6"],["r3","r7"],["r4","r8"],["r4","r9"],["r6","r10"],["r6","r11"],
["r8","r12"],["r8","r13"],["r9","r14"],["r9","r15"],["r10","r16"],["r10","r17"],["r11","r18"],["r11","r19"],
["r12","r20"],["r12","r21"],["r13","r22"],["r13","r23"],["r14","r24"],["r14","r25"],["r18","r26"],["r18","r27"],
["r22","r28"],["r22","r29"],["r23","r30"],["r23","r31"],["r25","r32"],["r25","r33"],["r27","r34"],["r27","r35"],
["r31","r36"],["r31","r37"],["r32","r38"],["r32","r39"],["r34","r40"],["r34","r41"]];
var g=document.getElementById("edges");
function box(id){var r=document.getElementById(id);var x=+r.getAttribute("x"),y=+r.getAttribute("y"),w=+r.getAttribute("width"),h=+r.getAttribute("height");return {cx:x+w/2,cy:y+h/2,hw:w/2,hh:h/2};}
function tclip(b,dx,dy){var a=Math.abs(dx)>1e-9?b.hw/Math.abs(dx):1e9,c=Math.abs(dy)>1e-9?b.hh/Math.abs(dy):1e9;return Math.min(a,c);}
var s="";
E.forEach(function(e){var p=box(e[0]),c=box(e[1]);var dx=c.cx-p.cx,dy=c.cy-p.cy;
var t0=tclip(p,dx,dy),t1=1-tclip(c,dx,dy);
var x0=p.cx+dx*t0,y0=p.cy+dy*t0,x1=p.cx+dx*t1,y1=p.cy+dy*t1;
var L=Math.sqrt((x1-x0)*(x1-x0)+(y1-y0)*(y1-y0)),ux=(x1-x0)/L,uy=(y1-y0)/L;
var al=14,aw=5.5,bx=x1-ux*al,by=y1-uy*al;
s+='<line x1="'+x0.toFixed(1)+'" y1="'+y0.toFixed(1)+'" x2="'+bx.toFixed(1)+'" y2="'+by.toFixed(1)+'"/>';
s+='<polygon stroke-width="1" points="'+x1.toFixed(1)+','+y1.toFixed(1)+' '+(bx-uy*aw).toFixed(1)+','+(by+ux*aw).toFixed(1)+' '+(bx+uy*aw).toFixed(1)+','+(by-ux*aw).toFixed(1)+'"/>';
});
g.innerHTML=s;
})();
</script>
</body></html>
